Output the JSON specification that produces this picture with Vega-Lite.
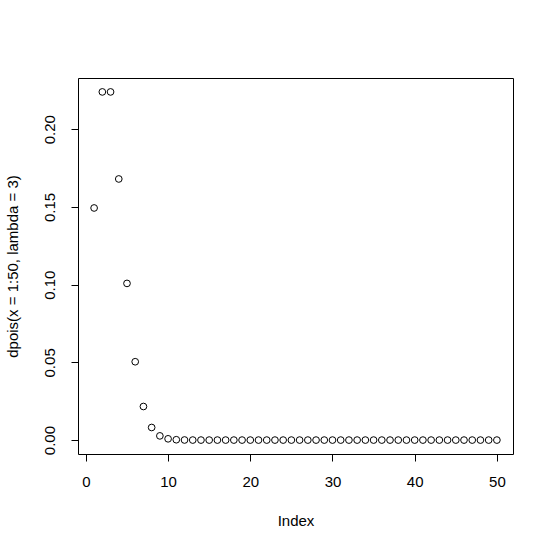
{
  "$schema": "https://vega.github.io/schema/vega-lite/v6.json",
  "width": 435,
  "height": 376,
  "autosize": {"type": "none"},
  "padding": {"left": 78, "top": 78, "right": 40, "bottom": 98},
  "background": "white",
  "config": {
    "view": {"stroke": "black", "strokeWidth": 1},
    "font": "Liberation Sans",
    "axis": {
      "grid": false,
      "domain": false,
      "tickColor": "black",
      "tickSize": 7,
      "labelFont": "Liberation Sans",
      "labelFontSize": 15,
      "labelColor": "black",
      "titleFont": "Liberation Sans",
      "titleFontSize": 15,
      "titleFontWeight": "normal",
      "titleColor": "black"
    }
  },
  "data": {
    "values": [
      {"Index": 1, "p": 0.1493612},
      {"Index": 2, "p": 0.2240418},
      {"Index": 3, "p": 0.2240418},
      {"Index": 4, "p": 0.1680314},
      {"Index": 5, "p": 0.1008188},
      {"Index": 6, "p": 0.0504094},
      {"Index": 7, "p": 0.0216040},
      {"Index": 8, "p": 0.0081015},
      {"Index": 9, "p": 0.0027005},
      {"Index": 10, "p": 0.0008102},
      {"Index": 11, "p": 0.000221},
      {"Index": 12, "p": 0.0000552},
      {"Index": 13, "p": 0.0000127},
      {"Index": 14, "p": 0.0000027},
      {"Index": 15, "p": 0.0000005},
      {"Index": 16, "p": 0.0000001},
      {"Index": 17, "p": 0},
      {"Index": 18, "p": 0},
      {"Index": 19, "p": 0},
      {"Index": 20, "p": 0},
      {"Index": 21, "p": 0},
      {"Index": 22, "p": 0},
      {"Index": 23, "p": 0},
      {"Index": 24, "p": 0},
      {"Index": 25, "p": 0},
      {"Index": 26, "p": 0},
      {"Index": 27, "p": 0},
      {"Index": 28, "p": 0},
      {"Index": 29, "p": 0},
      {"Index": 30, "p": 0},
      {"Index": 31, "p": 0},
      {"Index": 32, "p": 0},
      {"Index": 33, "p": 0},
      {"Index": 34, "p": 0},
      {"Index": 35, "p": 0},
      {"Index": 36, "p": 0},
      {"Index": 37, "p": 0},
      {"Index": 38, "p": 0},
      {"Index": 39, "p": 0},
      {"Index": 40, "p": 0},
      {"Index": 41, "p": 0},
      {"Index": 42, "p": 0},
      {"Index": 43, "p": 0},
      {"Index": 44, "p": 0},
      {"Index": 45, "p": 0},
      {"Index": 46, "p": 0},
      {"Index": 47, "p": 0},
      {"Index": 48, "p": 0},
      {"Index": 49, "p": 0},
      {"Index": 50, "p": 0}
    ]
  },
  "mark": {"type": "point", "shape": "circle", "filled": false, "stroke": "black", "strokeWidth": 1, "size": 45, "opacity": 1},
  "encoding": {
    "x": {
      "field": "Index",
      "type": "quantitative",
      "scale": {"domain": [-0.96, 51.96], "nice": false, "zero": false},
      "axis": {"values": [0, 10, 20, 30, 40, 50], "title": "Index", "labelPadding": 13, "titlePadding": 24, "labelFlush": false}
    },
    "y": {
      "field": "p",
      "type": "quantitative",
      "scale": {"domain": [-0.00896, 0.23300], "nice": false, "zero": false},
      "axis": {
        "values": [0, 0.05, 0.1, 0.15, 0.2],
        "format": ".2f",
        "title": "dpois(x = 1:50, lambda = 3)",
        "labelAngle": -90,
        "labelAlign": "center",
        "labelBaseline": "bottom",
        "labelPadding": 14,
        "labelFlush": false,
        "titlePadding": 22
      }
    }
  }
}
